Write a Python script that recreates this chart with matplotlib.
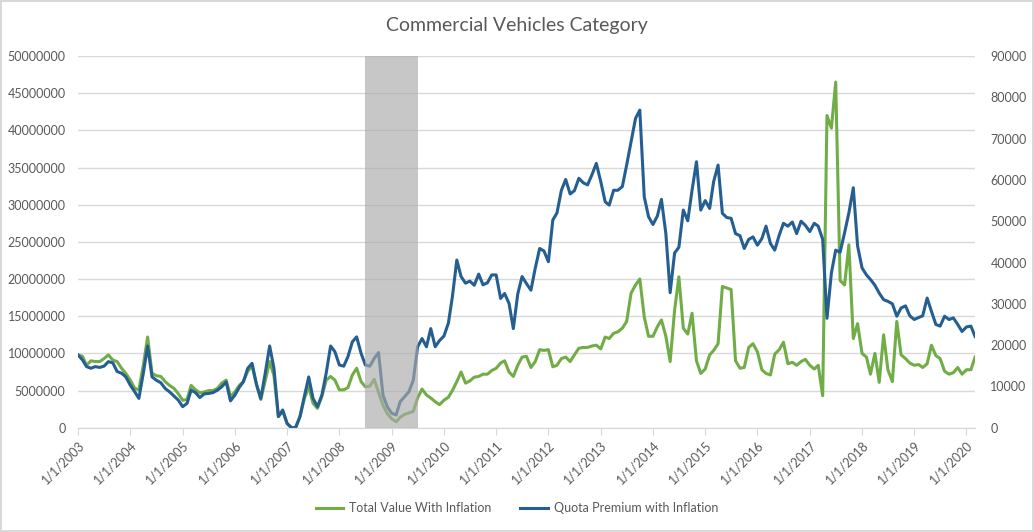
import numpy as np
import pandas as pd
import matplotlib
matplotlib.use("Agg")
import matplotlib.pyplot as plt

plt.rcParams['font.family'] = ['Lato', 'DejaVu Sans']

# monthly data, Jan 2003 .. Mar 2020
start_month = '2003-01-01'

# Total Value With Inflation (left axis), in millions
total_value = [
    9.8, 9.6, 8.4, 9.0, 8.9, 8.9, 9.3, 9.8, 9.1, 8.9, 8.0, 7.3,
    6.4, 5.3, 5.1, 8.4, 12.2, 7.3, 7.0, 6.9, 6.2, 5.7, 5.3, 4.6,
    3.7, 3.8, 5.7, 5.1, 4.7, 4.8, 5.0, 5.0, 5.3, 6.0, 6.4, 4.2,
    4.8, 5.7, 6.2, 7.6, 8.3, 5.8, 3.8, 6.3, 8.9, 7.0, 1.5, 2.2,
    0.6, 0.0, 0.0, 1.5, 3.9, 5.5, 3.3, 2.6, 4.2, 6.4, 6.9, 6.4,
    5.1, 5.1, 5.4, 7.1, 8.0, 6.2, 5.5, 5.6, 6.5, 4.8, 3.0, 1.9,
    1.2, 0.8, 1.4, 1.8, 2.0, 2.2, 4.0, 5.2, 4.4, 4.0, 3.5, 3.1,
    3.7, 4.1, 5.0, 6.2, 7.5, 6.0, 6.3, 6.8, 6.9, 7.2, 7.2, 7.7,
    8.0, 8.7, 9.0, 7.5, 6.9, 8.4, 9.5, 9.6, 8.1, 8.9, 10.5, 10.4,
    10.5, 8.2, 8.4, 9.3, 9.5, 8.9, 9.8, 10.7, 10.8, 10.8, 11.0, 11.1,
    10.6, 12.2, 12.0, 12.7, 12.9, 13.4, 14.3, 18.1, 19.2, 20.0, 14.9, 12.3,
    12.3, 13.6, 14.5, 12.3, 8.9, 15.8, 20.3, 13.4, 12.6, 15.4, 9.0, 7.3,
    7.9, 9.8, 10.4, 11.3, 19.0, 18.8, 18.6, 9.0, 8.0, 8.1, 10.8, 11.3,
    10.2, 7.8, 7.3, 7.1, 9.9, 10.5, 11.5, 8.6, 8.8, 8.4, 8.9, 9.2,
    8.4, 7.9, 8.4, 4.3, 42.0, 40.3, 46.5, 19.8, 19.2, 24.6, 12.0, 14.0,
    10.0, 9.5, 7.2, 10.0, 6.1, 12.5, 7.8, 6.2, 14.3, 9.8, 9.3, 8.7,
    8.4, 8.5, 8.1, 8.6, 11.1, 9.7, 9.3, 7.6, 7.2, 7.4, 8.1, 7.2,
    7.8, 7.8, 9.5,
]
total_value = [v * 1e6 for v in total_value]

# Quota Premium with Inflation (right axis)
quota_premium = [
    17600, 16400, 14800, 14400, 14800, 14600, 14900, 16000, 15700, 13600, 13200, 12300,
    10300, 8700, 7100, 13200, 19800, 12300, 11500, 10900, 9500, 8700, 7700, 6700,
    5100, 5900, 9100, 8500, 7300, 8200, 8300, 8500, 9100, 9900, 11100, 6500,
    7900, 9800, 11100, 14400, 15600, 10500, 7100, 13200, 19800, 14400, 2700, 4300,
    1000, 0, 0, 2700, 7500, 12300, 7100, 5100, 7900, 13200, 19800, 18400,
    15200, 14900, 17200, 20800, 22000, 18000, 15200, 14900, 16800, 18200, 7900, 5100,
    3500, 3100, 6300, 7500, 8700, 11500, 19600, 21600, 19600, 24000, 19600, 21100,
    22200, 25300, 31700, 40600, 36600, 35000, 35500, 34500, 37200, 34600, 35100, 37000,
    37000, 31300, 32500, 30100, 24000, 32400, 36600, 34900, 33300, 38600, 43400, 42800,
    40200, 50300, 52000, 57500, 60100, 56600, 57400, 60400, 59300, 58800, 61300, 64000,
    59600, 54700, 53900, 57500, 57500, 58400, 63600, 69200, 74900, 76900, 55900, 51100,
    49200, 51300, 55300, 47000, 32700, 42300, 43700, 52700, 50100, 57500, 64400, 52700,
    55000, 53100, 59600, 63600, 51900, 50900, 50700, 47000, 46500, 43400, 45600, 46200,
    44200, 45800, 48800, 44600, 43000, 46600, 49500, 48800, 49800, 47000, 50000, 49000,
    47500, 49500, 48800, 45600, 26500, 37500, 43000, 42500, 47200, 52000, 58100, 44000,
    38700, 37000, 35900, 34500, 32600, 31000, 30600, 30000, 27000, 29000, 29500, 27100,
    26200, 26700, 27100, 31400, 28200, 25000, 24600, 27000, 26200, 26600, 25000, 23300,
    24400, 24600, 22100,
]

years = list(range(2003, 2021))
year_labels = ['1/1/%d' % y for y in years]
shade_start = '2008-07-01'
shade_end = '2009-07-01'

dates = pd.date_range(start_month, periods=len(total_value), freq='MS')

green = '#70ad47'
blue = '#255e91'
text_col = '#595959'
grid_col = '#d9d9d9'

fig = plt.figure(figsize=(10.34, 5.32), dpi=100)
fig.patch.set_edgecolor(grid_col)
fig.patch.set_linewidth(1.5)
ax = fig.add_axes([0.0755, 0.196, 0.8675, 0.6987])
ax2 = ax.twinx()

l1, = ax.plot(dates, total_value, color=green, lw=2.2, zorder=2)
l2, = ax2.plot(dates, quota_premium, color=blue, lw=2.2, zorder=2)
# shaded band sits on top of both lines
ax2.axvspan(pd.Timestamp(shade_start), pd.Timestamp(shade_end), color='#aaaaaa',
            alpha=0.65, lw=0, zorder=3)

ax.set_ylim(0, 50000000)
ax.set_yticks(np.arange(0, 50000001, 5000000))
ax.set_yticklabels(['%d' % v for v in np.arange(0, 50000001, 5000000)])
ax2.set_ylim(0, 90000)
ax2.set_yticks(np.arange(0, 90001, 10000))
ax2.set_yticklabels(['%d' % v for v in np.arange(0, 90001, 10000)])

ax.set_xlim(dates[0], dates[-1])
tick_dates = [pd.Timestamp('%d-01-01' % y) for y in years]
ax.set_xticks(tick_dates)
ax.set_xticklabels(year_labels, rotation=45, ha='right', rotation_mode='anchor')

ax.grid(axis='y', color=grid_col, lw=1)
ax.set_axisbelow(True)
for a in (ax, ax2):
    for s in ('top', 'left', 'right'):
        a.spines[s].set_visible(False)
    a.spines['bottom'].set_color(grid_col)
    a.tick_params(axis='y', length=0, labelsize=9, labelcolor=text_col, pad=9)
ax.tick_params(axis='x', length=5, color=grid_col, labelsize=9, labelcolor=text_col, pad=3)
ax2.tick_params(axis='y', pad=11)

fig.text(0.5, 0.952, 'Commercial Vehicles Category', ha='center', va='center',
         fontsize=14, color=text_col)

fig.legend([l1, l2], ['Total Value With Inflation', 'Quota Premium with Inflation'],
           loc='center', bbox_to_anchor=(0.5, 0.045), ncol=2, frameon=False,
           fontsize=9, handlelength=2.2, handletextpad=0.5, columnspacing=2.3,
           labelcolor=text_col)

fig.savefig('out.png', dpi=100, edgecolor=fig.get_edgecolor())
